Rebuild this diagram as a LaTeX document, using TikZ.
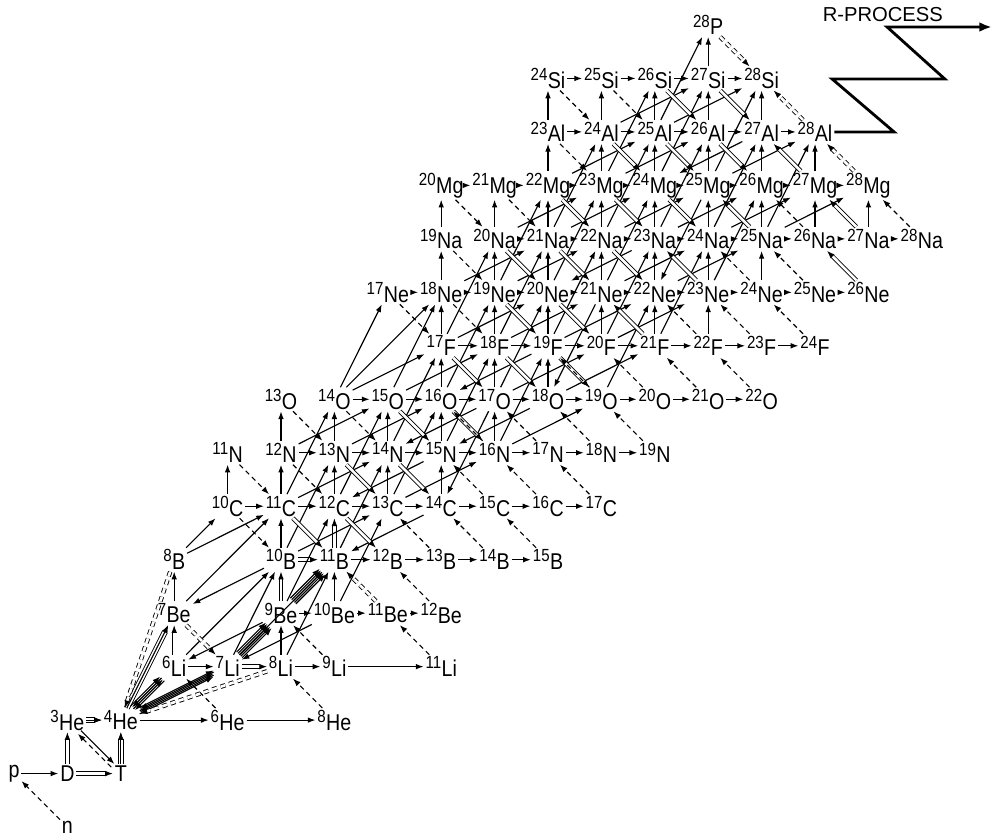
\documentclass[tikz,border=0pt]{standalone}
\usepackage{fontspec}
\setmainfont{Liberation Sans}[FakeStretch=0.86]
\newfontfamily\rpfont{Liberation Sans}
\usetikzlibrary{arrows.meta}
\newcommand{\iso}[2]{\raisebox{4.4pt}{\fontsize{10}{10}\selectfont #1}\kern0.2pt#2}

\begin{document}
\begin{tikzpicture}[
  x=1.068cm, y=1.0694cm,
  >={Latex[length=4.4pt,width=3.2pt]},
  line width=0.65pt,
  every node/.style={font=\fontsize{13}{15}\selectfont},
  nuc/.style={inner sep=0.8pt},
  beta/.style={->,dash pattern=on 2.8pt off 2.2pt},
  dbl/.style={->,double,double distance=1.5pt,line width=0.5pt},
  dbeta/.style={dbl,dash pattern=on 2.8pt off 2.2pt},
  trp/.style={->,double,double distance=2.4pt,line width=0.5pt},
  rproc/.style={-{Latex[length=7pt,width=5.5pt]},line width=1.6pt},
]
\useasboundingbox (-0.262,-0.2057) rectangle (18.333,15.467);
% nuclei, column = neutron number, row = proton number
\node[nuc] (neu) at (1,0) {n};
\node[nuc] (pro) at (0,1) {p};
\node[nuc] (deu) at (1,1) {D};
\node[nuc] (tri) at (2,1) {T};
\foreach \m in {3,4,6,8} \node[nuc] (He\m) at (\m-2,2) {\iso{\m}{He}};
\foreach \m in {6,7,8,9,11} \node[nuc] (Li\m) at (\m-3,3) {\iso{\m}{Li}};
\foreach \m in {7,9,10,11,12} \node[nuc] (Be\m) at (\m-4,4) {\iso{\m}{Be}};
\foreach \m in {8,10,11,...,15} \node[nuc] (B\m) at (\m-5,5) {\iso{\m}{B}};
\foreach \m in {10,...,17} \node[nuc] (C\m) at (\m-6,6) {\iso{\m}{C}};
\foreach \m in {11,...,19} \node[nuc] (N\m) at (\m-7,7) {\iso{\m}{N}};
\foreach \m in {13,...,22} \node[nuc] (O\m) at (\m-8,8) {\iso{\m}{O}};
\foreach \m in {17,...,24} \node[nuc] (F\m) at (\m-9,9) {\iso{\m}{F}};
\foreach \m in {17,...,26} \node[nuc] (Ne\m) at (\m-10,10) {\iso{\m}{Ne}};
\foreach \m in {19,...,28} \node[nuc] (Na\m) at (\m-11,11) {\iso{\m}{Na}};
\foreach \m in {20,...,28} \node[nuc] (Mg\m) at (\m-12,12) {\iso{\m}{Mg}};
\foreach \m in {23,...,28} \node[nuc] (Al\m) at (\m-13,13) {\iso{\m}{Al}};
\foreach \m in {24,...,28} \node[nuc] (Si\m) at (\m-14,14) {\iso{\m}{Si}};
\node[nuc] (P28) at (13,15) {\iso{28}{P}};

% (n,gamma) along the rows
\foreach \el/\ma/\mb in {Li/8/8, Be/9/11, B/11/14, C/10/16, N/12/18, O/14/21, F/17/23,
    Ne/17/25, Na/20/27, Mg/20/27, Al/23/27, Si/24/27}
  {\foreach \a in {\ma,...,\mb} {\pgfmathtruncatemacro{\b}{\a+1}\draw[->] (\el\a) -- (\el\b);}}
% (p,gamma) up the columns
\foreach \zl/\zu/\ma/\mb in {C/N/10/14, N/O/12/16, O/F/16/18, F/Ne/17/22, Ne/Na/18/24,
    Na/Mg/19/27, Mg/Al/22/27, Al/Si/23/27, Si/P/27/27}
  {\foreach \a in {\ma,...,\mb} {\pgfmathtruncatemacro{\b}{\a+1}\draw[->] (\zl\a) -- (\zu\b);}}

% light nuclei
\draw[->] (pro) -- (deu);
\draw[dbl] (deu) -- (tri);
\draw[dbl] (deu) -- (He3);
\draw[trp] (tri) -- (He4); \draw[->] (tri) -- (He4);
\draw[trp] (He3) -- (He4); \draw[->] (He3) -- (He4);
\draw[->,transform canvas={shift={(0.9pt,0.9pt)}}] (He3) -- (tri);
\draw[beta,transform canvas={shift={(-0.9pt,-0.9pt)}}] (tri) -- (He3);
\draw[->] (He4) -- (He6);
\draw[->] (He6) -- (He8);
\draw[->] (Li6) -- (Li7);
\draw[dbl] (Li7) -- (Li8);
\draw[->] (Li9) -- (Li11);
\draw[dbl] (Li6) -- (Be7);
\draw[->] (Be7) -- (B8);
\draw[->] (Li8) -- (Be9);
\draw[dbl] (Be9) -- (B10);
\draw[->] (Be10) -- (B11);
\draw[dbl] (B10) -- (B11);
\draw[->] (B10) -- (C11);
\draw[dbl] (B11) -- (C12);
\draw[trp] (He4) -- (Be7); \draw[->] (He4) -- (Be7);
\foreach \o in {-1.5,0.5} \draw[->,transform canvas={shift={(\o*0.8pt,\o*-0.8pt)}}] (He4) -- (Li6);
\foreach \o in {-0.5,1.5} \draw[->,transform canvas={shift={(\o*0.8pt,\o*-0.8pt)}}] (Li6) -- (He4);
\foreach \o in {-2,0,2} \draw[->,transform canvas={yshift=\o*0.9pt}] (He4) -- (Li7);
\foreach \o in {-1,1} \draw[->,transform canvas={yshift=\o*0.9pt}] (Li7) -- (He4);
\foreach \o in {-2,...,2} \draw[->,transform canvas={shift={(\o*0.8pt,\o*-0.8pt)}}] (Li7) -- (Be9);
\foreach \o in {-2,...,2} \draw[->,transform canvas={shift={(\o*0.8pt,\o*-0.8pt)}}] (Be9) -- (B11);
\foreach \a/\b in {Be9/Li6, Be10/Li7, B10/Be7, Li6/B10, Li7/B11, Be7/C11, B8/C10, B8/C11, O14/Ne18}
  \draw[->] (\a) -- (\b);

% (alpha,p) and (p,alpha)
\foreach \a/\b in {B10/C13, C14/B11, C11/N14, N15/C12, C13/N16, N12/O15, N13/O16, O17/N14,
    O18/N15, N16/O19, O14/F17, O15/F18, F19/O16, O17/F20, O18/F21, F17/Ne20, F18/Ne21,
    F19/Ne22, F20/Ne23, Ne18/Na21, Ne19/Na22, Na23/Ne20, Ne21/Na24, Ne22/Na25, Na20/Mg23,
    Na21/Mg24, Na22/Mg25, Na23/Mg26, Na24/Mg27, Na25/Mg28, Mg22/Al25, Mg23/Al26, Al27/Mg24,
    Mg25/Al28, Al24/Si27, Al25/Si28}
  \draw[->] (\a) -- (\b);
% (alpha,n) and (n,alpha)
\foreach \a/\b in {Li7/B10, Li8/B11, Be9/C12, Be10/C13, B10/N13, B11/N14, C11/O14, C12/O15,
    C13/O16, O17/C14, N14/F17, N15/F18, N16/F19, O14/Ne17, O15/Ne18, O16/Ne19, O17/Ne20,
    Ne21/O18, O19/Ne22, F17/Na20, F18/Na21, F19/Na22, F20/Na23, F21/Na24, Ne19/Mg22,
    Ne20/Mg23, Ne21/Mg24, Mg25/Ne22, Ne23/Mg26, Na21/Al24, Na22/Al25, Na23/Al26, Na24/Al27,
    Na25/Al28, Mg23/Si26, Mg24/Si27, Mg25/Si28, Al25/P28}
  \draw[->] (\a) -- (\b);
% (n,p) and (p,n)
\foreach \a/\b in {C11/B11, C12/B12, N13/C13, N14/C14, O15/N15, O16/N16, F17/O17, F18/O18,
    F19/O19, Ne19/F19, Ne20/F20, F21/Ne21, Na20/Ne20, Na21/Ne21, Na22/Ne22, Ne23/Na23,
    Mg22/Na22, Mg23/Na23, Mg24/Na24, Na25/Mg25, Al24/Mg24, Al25/Mg25, Al26/Mg26, Mg27/Al27,
    Si26/Al26, Si27/Al27, Ne26/Na26, Na27/Mg27}
  \draw[dbl] (\a) -- (\b);
% beta decays
\foreach \a/\b in {neu/pro, He6/Li6, He8/Li8, Li9/Be9, Li11/Be11, Be12/B12, C10/B10, B13/C13,
    B14/C14, B15/C15, N11/C11, N12/C12, C15/N15, C16/N16, C17/N17, O13/N13, O14/N14, N16/O16,
    N17/O17, N18/O18, N19/O19, Ne17/F17, Ne18/F18, O19/F19, O20/F20, O21/F21, O22/F22,
    Na19/Ne19, F22/Ne22, F23/Ne23, F24/Ne24, Ne24/Na24, Ne25/Na25, Mg20/Na20, Mg21/Na21,
    Na26/Mg26, Na28/Mg28, Al23/Mg23, Si24/Al24, Si25/Al25}
  \draw[beta] (\a) -- (\b);
\foreach \a/\b in {Be7/Li7, Be11/B11, Li8/He4, B8/He4, Mg28/Al28, Al28/Si28, P28/Si28}
  \draw[dbeta] (\a) -- (\b);

% r-process exit
\node[font=\rpfont\fontsize{11.5}{13}\selectfont] (rlab) at (16.27,15.19) {R-PROCESS};
\coordinate (rend) at (18.31,14.962);
\draw[rproc] (Al28) -- (16.48,13) -- (15.32,13.99) -- (17.43,13.99) -- (16.35,14.962) -- (rend);
\end{tikzpicture}
\end{document}
